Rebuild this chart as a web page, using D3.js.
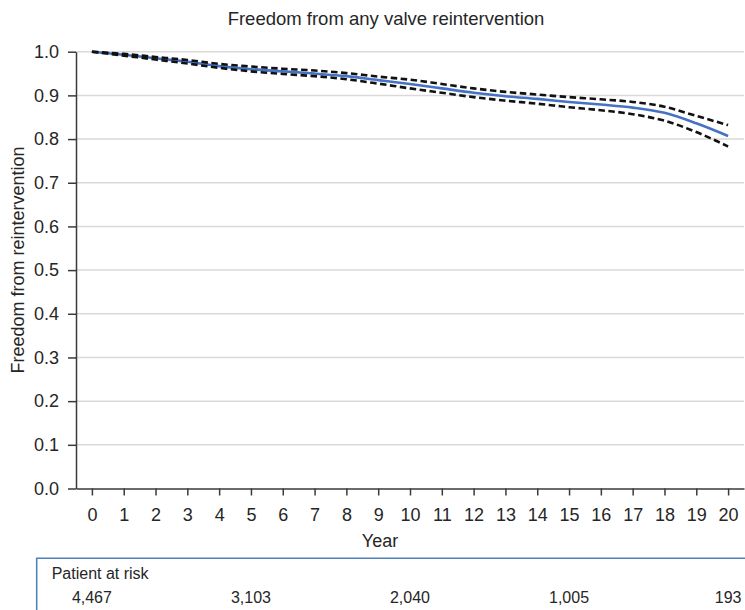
<!DOCTYPE html>
<html>
<head>
<meta charset="utf-8">
<script src="https://cdn.jsdelivr.net/npm/d3@7"></script>
<style>
  html, body { margin: 0; padding: 0; background: #fff; }
  svg { display: block; }
  text { font-family: "Liberation Sans", Arial, Helvetica, sans-serif; fill: #262626; }
</style>
</head>
<body>
<svg id="chart" width="745" height="610"></svg>
<script>
// ---- data ----
const years = [0,1,2,3,4,5,6,7,8,9,10,11,12,13,14,15,16,17,18,19,20];
const survival = [1.000,0.993,0.985,0.977,0.967,0.960,0.955,0.950,0.944,0.935,0.926,0.916,0.906,0.898,0.892,0.885,0.879,0.872,0.860,0.836,0.807];
const upperCI  = [1.000,0.995,0.988,0.981,0.972,0.966,0.961,0.957,0.951,0.943,0.936,0.926,0.916,0.908,0.902,0.896,0.891,0.885,0.874,0.853,0.832];
const lowerCI  = [1.000,0.991,0.982,0.973,0.963,0.955,0.949,0.944,0.937,0.927,0.916,0.906,0.896,0.888,0.881,0.873,0.866,0.857,0.842,0.816,0.783];
const yTicks = [0,0.1,0.2,0.3,0.4,0.5,0.6,0.7,0.8,0.9,1.0];
const riskYears = [0,5,10,15,20];
const riskLabels = ["4,467","3,103","2,040","1,005","193"];

const svg = d3.select("#chart");
const x = d3.scaleLinear().domain([-0.5, 20.5]).range([76, 744]);
const y = d3.scaleLinear().domain([0, 1]).range([488.5, 51.7]);

// gridlines
svg.append("g").selectAll("line").data(yTicks.filter(d => d > 0)).join("line")
  .attr("x1", x(-0.5)).attr("x2", x(20.5))
  .attr("y1", d => y(d)).attr("y2", d => y(d))
  .attr("stroke", "#d9d9d9").attr("stroke-width", 1.5);

// title
svg.append("text").attr("x", 386).attr("y", 25).attr("text-anchor", "middle")
  .style("font-size", "18.5px").text("Freedom from any valve reintervention");

// y axis
const yAxis = svg.append("g").attr("transform", `translate(${x(-0.5)},0)`)
  .call(d3.axisLeft(y).tickValues(yTicks).tickFormat(d3.format(".1f")).tickSize(8).tickSizeOuter(0).tickPadding(9));
// x axis
const xAxis = svg.append("g").attr("transform", `translate(0,${y(0)})`)
  .call(d3.axisBottom(x).tickValues(years).tickFormat(d3.format("d")).tickSize(7).tickSizeOuter(0).tickPadding(12.5));
[yAxis, xAxis].forEach(g => {
  g.select(".domain").attr("stroke", "#3a3a3a").attr("stroke-width", 1.5);
  g.selectAll(".tick line").attr("stroke", "#3a3a3a").attr("stroke-width", 1.5);
  g.selectAll(".tick text").style("font-size", "18px").attr("fill", "#262626")
    .style("font-family", '"Liberation Sans", Arial, Helvetica, sans-serif');
});

// axis labels
svg.append("text").attr("x", 380).attr("y", 547).attr("text-anchor", "middle")
  .style("font-size", "18px").text("Year");
svg.append("text").attr("transform", "translate(24,260) rotate(-90)").attr("text-anchor", "middle")
  .style("font-size", "18px").text("Freedom from reintervention");

// lines
const line = d3.line().x((d, i) => x(years[i])).y(d => y(d)).curve(d3.curveMonotoneX);
svg.append("path").attr("d", line(survival)).attr("fill", "none")
  .attr("stroke", "#4472c4").attr("stroke-width", 2.6);
[upperCI, lowerCI].forEach(s => {
  svg.append("path").attr("d", line(s)).attr("fill", "none")
    .attr("stroke", "#111").attr("stroke-width", 2.6).attr("stroke-dasharray", "6.5,3.5");
});

// patients at risk box
svg.append("path").attr("d", `M36.7,${615} V558.3 H${750}`)
  .attr("fill", "none").attr("stroke", "#4f81bd").attr("stroke-width", 1.6);
svg.append("text").attr("x", 51.7).attr("y", 579).style("font-size", "16px").text("Patient at risk");
svg.append("g").selectAll("text").data(riskYears).join("text")
  .attr("x", d => x(d)).attr("y", 602.7).attr("text-anchor", "middle")
  .style("font-size", "16px").text((d, i) => riskLabels[i]);
</script>
</body>
</html>
